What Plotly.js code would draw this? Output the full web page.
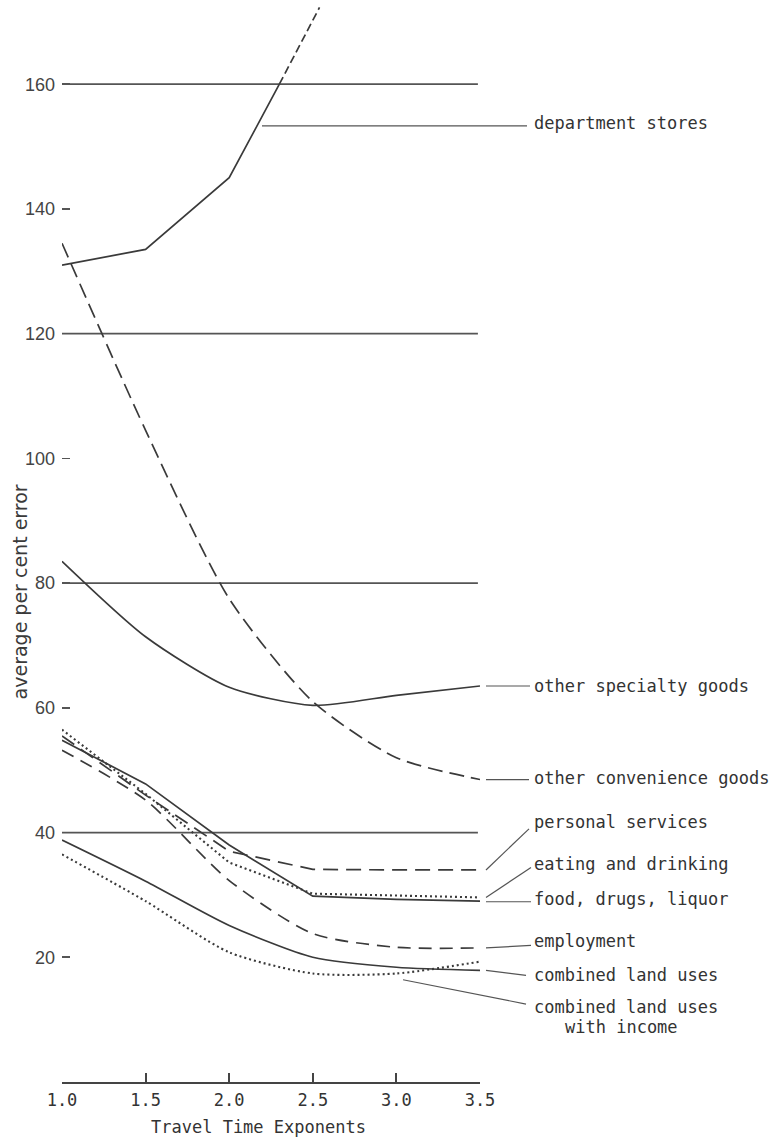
<!DOCTYPE html>
<html>
<head>
<meta charset="utf-8">
<script src="https://cdn.plot.ly/plotly-3.0.1.min.js"></script>
<style>
  html, body { margin: 0; padding: 0; background: #ffffff; }
  #chart { width: 772px; height: 1139px; }
</style>
</head>
<body>
<div id="chart"></div>
<script>
// ---- data ----
const exponents      = [1.0, 1.5, 2.0, 2.5, 3.0, 3.5];
const specialty      = [83.5, 71.4, 63.3, 60.4, 62.0, 63.5];
const convenience    = [134.5, 104.5, 77.5, 61.0, 52.0, 48.5];
const personal       = [55.5, 46.0, 37.0, 34.1, 34.0, 34.0];
const eating         = [56.5, 46.2, 35.2, 30.2, 29.9, 29.6];
const food           = [54.8, 47.8, 38.0, 29.8, 29.3, 29.0];
const employment     = [53.2, 45.2, 32.3, 23.8, 21.6, 21.5];
const combined       = [38.8, 32.2, 25.1, 20.0, 18.4, 17.9];
const combinedIncome = [36.5, 29.0, 20.8, 17.4, 17.4, 19.3];
const deptX          = [1.0, 1.5, 2.0, 2.3, 2.54];
const dept           = [131.0, 133.5, 145.0, 160.0, 172.3];

const xTickVals  = [1.0, 1.5, 2.0, 2.5, 3.0, 3.5];
const xTickText  = ["1.0", "1.5", "2.0", "2.5", "3.0", "3.5"];
const yTickVals  = [20, 40, 60, 80, 100, 120, 140, 160];
const yTickText  = ["20", "40", "60", "80", "100", "120", "140", "160"];
const gridVals   = [40, 80, 120, 160];

const seriesNames = ["department stores", "other specialty goods", "other convenience goods",
  "personal services", "eating and drinking", "food, drugs, liquor", "employment",
  "combined land uses", "combined land uses", "with income"];

// ---- styling ----
const INK = "#3a3a3a";
const LW = 1.7;
const MONO = "DejaVu Sans Mono, monospace";

function line(x, y, dash, shape) {
  return {
    x: x, y: y, type: "scatter", mode: "lines", hoverinfo: "skip", showlegend: false,
    line: { color: INK, width: dash === "dot" ? 2.1 : LW, dash: dash === "dot" ? "2px,3px" : dash,
            shape: shape || "linear", smoothing: 0.7 }
  };
}

const traces = [
  line(deptX.slice(0, 4), dept.slice(0, 4), "solid"),
  line(deptX.slice(3), dept.slice(3), "8px,4px"),
  line(exponents, specialty, "solid", "spline"),
  line(exponents, convenience, "15px,7px", "spline"),
  line(exponents, personal, "15px,8px"),
  line(exponents, eating, "dot"),
  line(exponents, food, "solid"),
  line(exponents, employment, "13px,8px", "spline"),
  line(exponents, combined, "solid", "spline"),
  line(exponents, combinedIncome, "dot", "spline")
];

// paper x from pixel positions inside the 62..480 plot area
const PL = 62, PW = 418;
const px = p => (p - PL) / PW;

const last = a => a[a.length - 1];
const labelX = px(532);
const endX = px(486);

// label placements (y in data units) and leader lines
const labels = [
  { t: seriesNames[0], x: labelX, y: 153.7 },
  { t: seriesNames[1], x: labelX, y: 63.5 },
  { t: seriesNames[2], x: labelX, y: 48.7 },
  { t: seriesNames[3], x: labelX, y: 41.7 },
  { t: seriesNames[4], x: labelX, y: 35.0 },
  { t: seriesNames[5], x: labelX, y: 29.3 },
  { t: seriesNames[6], x: labelX, y: 22.6 },
  { t: seriesNames[7], x: labelX, y: 17.2 },
  { t: seriesNames[8], x: labelX, y: 12.1 },
  { t: seriesNames[9], x: px(563), y: 8.8 }
];

const leaders = [
  [px(262), 153.3, px(527), 153.3],
  [endX, last(specialty), px(530), last(specialty)],
  [endX, last(convenience), px(529), last(convenience)],
  [endX, last(personal), px(529), 40.6],
  [endX, last(eating), px(531), 34.4],
  [endX, last(food) - 0.1, px(531), last(food) - 0.1],
  [endX, last(employment), px(531), 21.9],
  [endX, last(combined), px(526), 17.1],
  [px(403), 16.4, px(526), 12.5]
];

const shapes = [];
gridVals.forEach(v => shapes.push({
  type: "line", xref: "paper", yref: "y", x0: 0, x1: 0.995, y0: v, y1: v,
  line: { color: "#555", width: 1.7 }, layer: "below"
}));
leaders.forEach(l => shapes.push({
  type: "line", xref: "paper", yref: "y", x0: l[0], y0: l[1], x1: l[2], y1: l[3],
  line: { color: "#555", width: 1.2 }
}));

const annotations = labels.map(l => ({
  text: l.t, xref: "paper", yref: "y", x: l.x, y: l.y, xanchor: "left", yanchor: "middle",
  showarrow: false, font: { family: MONO, size: 17, color: "#333" }
}));
annotations.push({
  text: "average per cent error", xref: "paper", yref: "y", x: px(20), y: 78.5,
  textangle: -90, showarrow: false, xanchor: "center", yanchor: "middle",
  font: { family: "DejaVu Sans, sans-serif", size: 19, color: "#3a3a3a" }
});
annotations.push({
  text: "Travel Time Exponents", xref: "paper", yref: "paper", x: px(258), y: 0,
  yshift: -45, showarrow: false, xanchor: "center", yanchor: "middle",
  font: { family: MONO, size: 17, color: "#333" }
});

const layout = {
  width: 772, height: 1139,
  margin: { l: 62, r: 292, t: 0, b: 57 },
  paper_bgcolor: "#ffffff", plot_bgcolor: "#ffffff",
  showlegend: false,
  xaxis: {
    range: [1, 3.5], tickvals: xTickVals, ticktext: xTickText,
    ticks: "inside", ticklen: 9, tickwidth: 2, tickcolor: "#444",
    showline: true, linecolor: "#444", linewidth: 2,
    showgrid: false, zeroline: false, fixedrange: true,
    tickfont: { family: MONO, size: 17, color: "#333" }, ticklabelstandoff: 2
  },
  yaxis: {
    range: [0, 173.5], tickvals: yTickVals, ticktext: yTickText,
    ticks: "inside", ticklen: 8, tickwidth: 1.6, tickcolor: "#555",
    showline: false, showgrid: false, zeroline: false, fixedrange: true,
    tickfont: { family: "Liberation Sans, Arial, sans-serif", size: 18, color: "#444" },
    ticklabelstandoff: 6
  },
  shapes: shapes,
  annotations: annotations
};

Plotly.newPlot("chart", traces, layout, { staticPlot: true, displayModeBar: false });
</script>
</body>
</html>
